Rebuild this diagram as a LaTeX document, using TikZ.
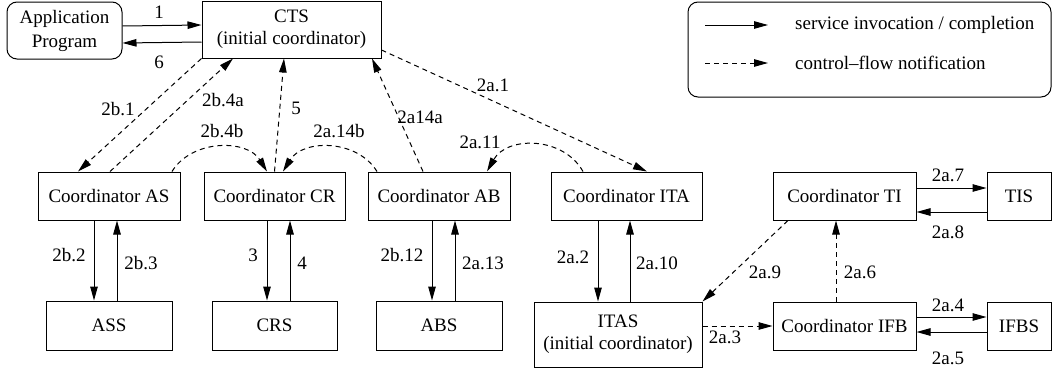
\documentclass[tikz,border=0pt]{standalone}
\usepackage{fontspec}
\setmainfont{Liberation Serif}
\usetikzlibrary{arrows.meta,calc}
\begin{document}
\begin{tikzpicture}[x=1pt,y=-1pt,
  every node/.style={font=\fontsize{19}{22}\selectfont},
  box/.style={draw,line width=1pt,inner sep=0pt,align=center},
  lbl/.style={inner sep=0pt},
  sol/.style={line width=1pt,-{Triangle[length=14pt,width=7.5pt]}},
  dsh/.style={line width=1pt,dash pattern=on 5pt off 4pt,-{Triangle[length=14pt,width=7.5pt]}}]
\useasboundingbox (0,0) rectangle (1054,372);
% boxes
\node[box,rounded corners=10pt,minimum width=115pt,minimum height=57pt] (app) at (64.5,30.5) {Application\\[2pt]Program};
\node[box,minimum width=179pt,minimum height=57pt] (cts) at (291.5,29.5) {CTS\\(initial coordinator)};
\node[box,minimum width=142pt,minimum height=48pt] (as) at (109,196) {Coordinator AS};
\node[box,minimum width=141pt,minimum height=48pt] (cr) at (274.5,196) {Coordinator CR};
\node[box,minimum width=142pt,minimum height=48pt] (ab) at (439,196) {Coordinator AB};
\node[box,minimum width=151pt,minimum height=48pt] (ita) at (626.5,196) {Coordinator ITA};
\node[box,minimum width=143pt,minimum height=48pt] (ti) at (844.5,196) {Coordinator TI};
\node[box,minimum width=64pt,minimum height=48pt] (tis) at (1019,196) {TIS};
\node[box,minimum width=126pt,minimum height=49pt] (ass) at (109,325.5) {ASS};
\node[box,minimum width=125pt,minimum height=49pt] (crs) at (274.5,325.5) {CRS};
\node[box,minimum width=126pt,minimum height=49pt] (abs) at (439,325.5) {ABS};
\node[box,minimum width=168pt,minimum height=65pt] (itas) at (618,334.5) {ITAS\\(initial coordinator)};
\node[box,minimum width=143pt,minimum height=48pt] (ifb) at (844.5,326) {Coordinator IFB};
\node[box,minimum width=64pt,minimum height=48pt] (ifbs) at (1019,326) {IFBS};
% legend
\node[box,rounded corners=10pt,minimum width=363pt,minimum height=95pt] (leg) at (869.5,49.5) {};
\coordinate (l1a) at (705,25);
\coordinate (l1b) at (768,25);
\coordinate (l2a) at (705,63);
\coordinate (l2b) at (768,63);
\draw[sol] (l1a) -- (l1b);
\draw[dsh] (l2a) -- (l2b);
\node[lbl,anchor=west] (lt1) at (795,25) {service invocation / completion};
\node[lbl,anchor=west] (lt2) at (795,63) {control\textendash flow notification};
% solid arrows
\draw[sol] ([yshift=4.5pt]app.east) -- ([yshift=4.5pt]cts.west);
\draw[sol] ([yshift=-12.5pt]cts.west) -- ([yshift=-12.5pt]app.east);
\draw[sol] ([xshift=-15pt]as.south) -- ([xshift=-15pt]ass.north);
\draw[sol] ([xshift=8pt]ass.north) -- ([xshift=8pt]as.south);
\draw[sol] ([xshift=-7.5pt]cr.south) -- ([xshift=-7.5pt]crs.north);
\draw[sol] ([xshift=15.5pt]crs.north) -- ([xshift=15.5pt]cr.south);
\draw[sol] ([xshift=-7pt]ab.south) -- ([xshift=-7pt]abs.north);
\draw[sol] ([xshift=16pt]abs.north) -- ([xshift=16pt]ab.south);
\draw[sol] ([xshift=-28.5pt]ita.south) -- ([xshift=-20pt]itas.north);
\draw[sol] ([xshift=12pt]itas.north) -- ([xshift=3.5pt]ita.south);
\draw[sol] ([yshift=8pt]ti.east) -- ([yshift=8pt]tis.west);
\draw[sol] ([yshift=-16pt]tis.west) -- ([yshift=-16pt]ti.east);
\draw[sol] ([yshift=9pt]ifb.east) -- ([yshift=9pt]ifbs.west);
\draw[sol] ([yshift=-6pt]ifbs.west) -- ([yshift=-6pt]ifb.east);
% dashed arrows
\draw[dsh] (cts.south west) -- ([xshift=-31pt]as.north);
\draw[dsh] ([xshift=1pt]as.north) -- ([xshift=-58.5pt]cts.south);
\draw[dsh] (cr.north) -- ([xshift=-7.5pt]cts.south);
\draw[dsh] ([xshift=63pt]as.north) .. controls (192,139) and (247,139) .. ([xshift=-7.5pt]cr.north);
\draw[dsh] ([xshift=-62pt]ab.north) .. controls (357,139) and (303,139) .. ([xshift=8.5pt]cr.north);
\draw[dsh] ([xshift=-16pt]ab.north) -- ([xshift=80.5pt]cts.south);
\draw[dsh] ([xshift=-43.5pt]ita.north) .. controls (563,136) and (507,136) .. ([xshift=48pt]ab.north);
\draw[dsh] ([yshift=-20.5pt]cts.east) -- ([xshift=20.5pt]ita.north);
\draw[dsh] ([yshift=8.5pt]itas.east) -- (ifb.west);
\draw[dsh] ([xshift=-8.5pt]ifb.north) -- ([xshift=-8.5pt]ti.south);
\draw[dsh] ([xshift=-56.5pt]ti.south) -- (itas.north east);
% labels
\node[lbl] (n1) at (159,12) {1};
\node[lbl] (n6) at (159,62) {6};
\node[lbl] (n2b1) at (118,109) {2b.1};
\node[lbl] (n2b4a) at (223,100) {2b.4a};
\node[lbl] (n5) at (296,108) {5};
\node[lbl] (n2b4b) at (222,131) {2b.4b};
\node[lbl] (n2a14b) at (339,131) {2a.14b};
\node[lbl] (n2a14a) at (420,117) {2a14a};
\node[lbl] (n2a11) at (480,142) {2a.11};
\node[lbl] (n2a1) at (493,85) {2a.1};
\node[lbl] (n2b2) at (69,255) {2b.2};
\node[lbl] (n2b3) at (141,263) {2b.3};
\node[lbl] (n3) at (253,255) {3};
\node[lbl] (n4) at (302,263) {4};
\node[lbl] (n2b12) at (402,255) {2b.12};
\node[lbl] (n2a13) at (483,263) {2a.13};
\node[lbl] (n2a2) at (573,257) {2a.2};
\node[lbl] (n2a10) at (657,263) {2a.10};
\node[lbl] (n2a9) at (765,272) {2a.9};
\node[lbl] (n2a6) at (860,272) {2a.6};
\node[lbl] (n2a3) at (725,337) {2a.3};
\node[lbl] (n2a7) at (948,175) {2a.7};
\node[lbl] (n2a8) at (948,232) {2a.8};
\node[lbl] (n2a4) at (948,305) {2a.4};
\node[lbl] (n2a5) at (948,358) {2a.5};
\end{tikzpicture}
\end{document}
